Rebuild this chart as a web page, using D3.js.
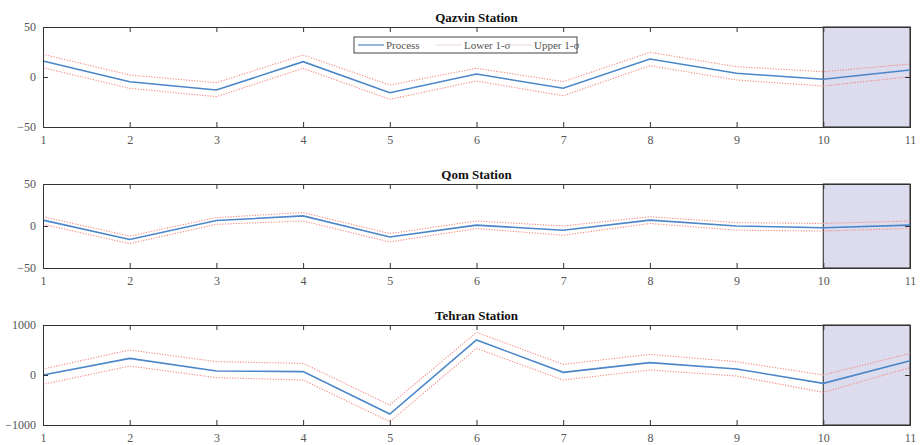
<!DOCTYPE html>
<html>
<head>
<meta charset="utf-8">
<script src="https://cdn.jsdelivr.net/npm/d3@7"></script>
<style>
  body { margin: 0; background: #fff; }
</style>
</head>
<body>
<svg id="vis"></svg>
<script>
// time steps along the x axis
const steps = [1, 2, 3, 4, 5, 6, 7, 8, 9, 10, 11];

// Qazvin
const qazvinProcess = [16, -4.7, -13, 15.3, -15.7, 3, -11.3, 18, 3.7, -2.3, 7];
const qazvinUpper = [22.7, 2, -5.7, 22, -8, 8.7, -4.7, 24.7, 10.3, 5.3, 13];
const qazvinLower = [9.3, -11.3, -19.7, 8.7, -22.3, -4, -18.7, 11.3, -3, -9, 0.3];

// Qom
const qomProcess = [7, -16, 6.5, 12, -13, 1, -5, 7, 0, -2, 1];
const qomUpper = [11, -12, 10, 16, -9, 6, 0, 11, 4, 3, 6];
const qomLower = [2, -21, 2, 6, -19, -3, -11, 3, -5, -6, -3];

// Tehran
const tehranProcess = [0, 333, 80, 67, -780, 700, 53, 247, 120, -167, 287];
const tehranUpper = [120, 500, 267, 233, -600, 853, 213, 413, 267, 0, 433];
const tehranLower = [-187, 180, -53, -100, -933, 533, -100, 100, -20, -347, 147];

const titles = ["Qazvin Station", "Qom Station", "Tehran Station"];
const yTicks = [[-50, 0, 50], [-50, 0, 50], [-1000, 0, 1000]];
const yDomains = [[-50, 50], [-50, 50], [-1000, 1000]];
const forecastSpan = [10, 11];
const legendLabels = ["Process", "Lower 1-\u03c3", "Upper 1-\u03c3"];

const WIDTH = 920, HEIGHT = 445;
const LEFT = 43, RIGHT = 910;
const FONT = "'Liberation Serif', 'Times New Roman', 'DejaVu Serif', serif";
const panels = [
    {top: 27, bottom: 127, p: qazvinProcess, u: qazvinUpper, l: qazvinLower},
    {top: 184, bottom: 268, p: qomProcess, u: qomUpper, l: qomLower},
    {top: 325, bottom: 425, p: tehranProcess, u: tehranUpper, l: tehranLower}
];

const BLUE = "#4a86c8";
const RED = "#f48a80";
const AXIS = "#333";

const svg = d3.select("#vis").attr("width", WIDTH).attr("height", HEIGHT);

const x = d3.scaleLinear().domain([1, 11]).range([LEFT, RIGHT]);

panels.forEach(function(pn, i) {
    const y = d3.scaleLinear().domain(yDomains[i]).range([pn.bottom, pn.top]);
    const g = svg.append("g");

    // shaded forecast area
    g.append("rect")
        .attr("x", x(forecastSpan[0]))
        .attr("y", pn.top)
        .attr("width", x(forecastSpan[1]) - x(forecastSpan[0]))
        .attr("height", pn.bottom - pn.top)
        .attr("fill", "#dcdcee")
        .attr("stroke", "#444")
        .attr("stroke-width", 1.2);

    const line = d3.line().x((d, k) => x(steps[k])).y(d => y(d));

    g.append("path").datum(pn.u).attr("d", line)
        .attr("fill", "none").attr("stroke", RED).attr("stroke-width", 1.1)
        .attr("stroke-dasharray", "1.2,1.5");
    g.append("path").datum(pn.l).attr("d", line)
        .attr("fill", "none").attr("stroke", RED).attr("stroke-width", 1.1)
        .attr("stroke-dasharray", "1.2,1.5");
    g.append("path").datum(pn.p).attr("d", line)
        .attr("fill", "none").attr("stroke", BLUE).attr("stroke-width", 1.6);

    // axes (MATLAB style, ticks inward)
    const xb = g.append("g").attr("transform", "translate(0," + pn.bottom + ")")
        .call(d3.axisBottom(x).tickValues(steps).tickSize(-5).tickPadding(8).tickFormat(d3.format("d")));
    const xt = g.append("g").attr("transform", "translate(0," + pn.top + ")")
        .call(d3.axisTop(x).tickValues(steps).tickSize(-5).tickFormat(""));
    const yl = g.append("g").attr("transform", "translate(" + LEFT + ",0)")
        .call(d3.axisLeft(y).tickValues(yTicks[i]).tickSize(-5).tickPadding(7).tickFormat(d3.format("d")));
    const yr = g.append("g").attr("transform", "translate(" + RIGHT + ",0)")
        .call(d3.axisRight(y).tickValues(yTicks[i]).tickSize(-5).tickFormat(""));

    [xb, xt, yl, yr].forEach(function(a) {
        a.attr("font-family", FONT);
        a.select(".domain").attr("stroke", AXIS).attr("stroke-width", 1);
        a.selectAll(".tick line").attr("stroke", AXIS);
        a.selectAll(".tick text").attr("fill", "#555").style("font-family", FONT).style("font-size", "12px");
    });

    g.append("text")
        .attr("x", (LEFT + RIGHT) / 2)
        .attr("y", pn.top - 5)
        .attr("text-anchor", "middle")
        .style("font-family", FONT)
        .style("font-size", "13px")
        .style("font-weight", "bold")
        .attr("fill", "#111")
        .text(titles[i]);
});

// legend
const leg = svg.append("g").attr("transform", "translate(354,37)");
leg.append("rect").attr("width", 223).attr("height", 16)
    .attr("fill", "#fff").attr("stroke", "#444").attr("stroke-width", 1);
const legItems = [
    {x: 4, color: BLUE, op: 1},
    {x: 82, color: "#e8c8c8", op: 0.6},
    {x: 152, color: "#e8c8c8", op: 0.6}
];
legItems.forEach(function(it, k) {
    leg.append("line")
        .attr("x1", it.x).attr("x2", it.x + 26)
        .attr("y1", 8).attr("y2", 8)
        .attr("stroke", it.color).attr("stroke-width", 1.2)
        .attr("opacity", it.op);
    leg.append("text")
        .attr("x", it.x + 28).attr("y", 12)
        .style("font-family", FONT)
        .style("font-size", "11px")
        .attr("fill", "#555")
        .text(legendLabels[k]);
});
</script>
</body>
</html>
